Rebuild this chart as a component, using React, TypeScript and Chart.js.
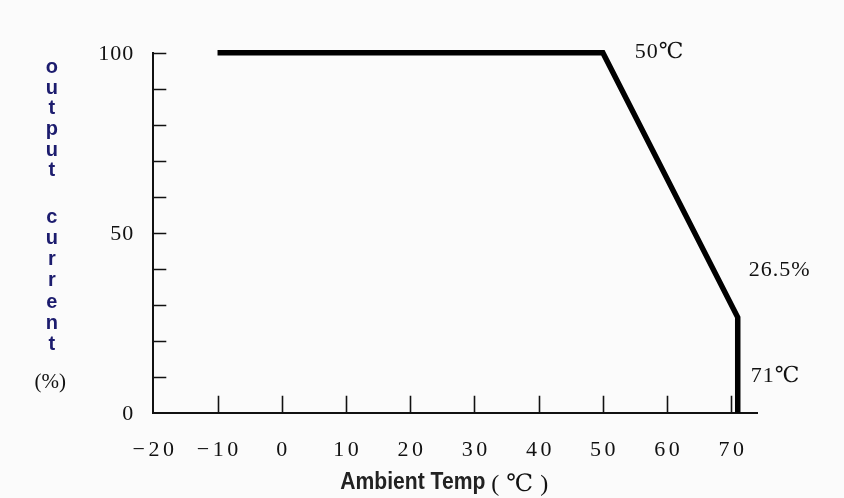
import React, { useEffect, useRef } from 'react';
import { Chart, registerables } from 'chart.js';

Chart.register(...registerables);

// ---------------- data ----------------
const TEMPERATURES = [-10, 50, 71, 71];
const OUTPUT_CURRENT = [100, 100, 26.5, 0];
const X_TICK_VALUES = [-20, -10, 0, 10, 20, 30, 40, 50, 60, 70];
const Y_TICK_VALUES = [0, 10, 20, 30, 40, 50, 60, 70, 80, 90, 100];
const Y_LABELLED_VALUES = [0, 50, 100];
const X_MIN = -20;
const X_MAX = 74;
const Y_MIN = 0;
const Y_MAX = 100;
const ANNOTATION_TEXTS = ['50℃', '26.5%', '71℃'];
const ANNOTATION_AT_X = [50, 71, 71];
const ANNOTATION_AT_Y = [100, 26.5, 0];
const Y_TITLE_WORDS = ['output', 'current'];
const Y_TITLE_UNIT = '(%)';
const X_TITLE = 'Ambient Temp';
const X_TITLE_UNIT = '(℃)';

// ---------------- styles ----------------
const SERIF = "'Liberation Serif', 'DejaVu Serif', serif";
const SANS = "'Liberation Sans', Arial, sans-serif";
const INK = '#111111';
const NAVY = '#1c1c6e';
const ANNOTATION_OFFSETS = [
  { dx: 32, dy: 0 },
  { dx: 11, dy: -47 },
  { dx: 13, dy: -36 },
];

function drawSpaced(
  ctx: CanvasRenderingContext2D,
  text: string,
  x: number,
  y: number,
  spacing: number,
  align: 'left' | 'center' | 'right'
) {
  const chars = Array.from(text);
  const widths = chars.map((c) => ctx.measureText(c).width);
  const total = widths.reduce((a, b) => a + b, 0) + spacing * (chars.length - 1);
  let cur = align === 'center' ? x - total / 2 : align === 'right' ? x - total : x;
  ctx.textAlign = 'left';
  chars.forEach((c, i) => {
    ctx.fillText(c, cur, y);
    cur += widths[i] + spacing;
  });
}

function formatTick(v: number) {
  return v < 0 ? '\u2212' + Math.abs(v) : String(v);
}

const decorPlugin = {
  id: 'deratingDecor',
  beforeDatasetsDraw(chart: any) {
    const { ctx, chartArea: ca, scales } = chart;
    const x = scales.x;
    const y = scales.y;
    ctx.save();
    ctx.strokeStyle = INK;
    ctx.lineWidth = 1.6;
    ctx.beginPath();
    for (const v of Y_TICK_VALUES) {
      if (v === Y_MIN) continue;
      const py = Math.round(y.getPixelForValue(v)) + 0.5;
      ctx.moveTo(ca.left, py);
      ctx.lineTo(ca.left + 13, py);
    }
    for (const v of X_TICK_VALUES) {
      if (v === X_MIN) continue;
      const px = Math.round(x.getPixelForValue(v)) + 0.5;
      ctx.moveTo(px, ca.bottom);
      ctx.lineTo(px, ca.bottom - 17);
    }
    ctx.stroke();
    ctx.restore();
  },
  afterDraw(chart: any) {
    const { ctx, chartArea: ca, scales } = chart;
    const x = scales.x;
    const y = scales.y;
    ctx.save();
    ctx.textBaseline = 'middle';

    // x tick labels
    ctx.fillStyle = INK;
    ctx.font = `22px ${SERIF}`;
    for (const v of X_TICK_VALUES) {
      drawSpaced(ctx, formatTick(v), x.getPixelForValue(v), ca.bottom + 38, 3.5, 'center');
    }
    // y tick labels
    for (const v of Y_LABELLED_VALUES) {
      drawSpaced(ctx, formatTick(v), ca.left - 20, y.getPixelForValue(v) + 1.5, 1, 'right');
    }

    // annotations
    ANNOTATION_TEXTS.forEach((t, i) => {
      const px = x.getPixelForValue(ANNOTATION_AT_X[i]) + ANNOTATION_OFFSETS[i].dx;
      const py = y.getPixelForValue(ANNOTATION_AT_Y[i]) + ANNOTATION_OFFSETS[i].dy;
      drawSpaced(ctx, t, px, py, 1, 'left');
    });

    // y title: stacked letters
    const cx = ca.left - 101.5;
    ctx.fillStyle = NAVY;
    ctx.font = `bold 20px ${SANS}`;
    const starts = [ca.top + 15, ca.top + 164.5];
    const steps = [20.6, 21.2];
    Y_TITLE_WORDS.forEach((w, wi) => {
      Array.from(w).forEach((c, ci) => {
        ctx.textAlign = 'center';
        ctx.fillText(c, cx, starts[wi] + ci * steps[wi]);
      });
    });
    ctx.fillStyle = INK;
    ctx.font = `21px ${SERIF}`;
    drawSpaced(ctx, Y_TITLE_UNIT, cx - 1.5, ca.top + 329.5, 0, 'center');

    // x title
    ctx.fillStyle = '#222222';
    ctx.font = `bold 23px ${SANS}`;
    const titleLeft = ca.left + 187;
    const titleY = ca.bottom + 70;
    const w = ctx.measureText(X_TITLE).width;
    ctx.save();
    ctx.translate(titleLeft, titleY);
    ctx.scale(145 / w, 1);
    ctx.textAlign = 'left';
    ctx.fillText(X_TITLE, 0, 0);
    ctx.restore();
    ctx.fillStyle = INK;
    ctx.font = `24px ${SERIF}`;
    drawSpaced(ctx, X_TITLE_UNIT, titleLeft + 151, titleY + 2, 7, 'left');

    ctx.restore();
  },
};

export default function App() {
  const canvasRef = useRef<HTMLCanvasElement | null>(null);

  useEffect(() => {
    const canvas = canvasRef.current;
    if (!canvas) return;
    const chart = new Chart(canvas, {
      type: 'line',
      data: {
        datasets: [
          {
            data: TEMPERATURES.map((t, i) => ({ x: t, y: OUTPUT_CURRENT[i] })),
            borderColor: '#000000',
            borderWidth: 5.5,
            pointRadius: 0,
            tension: 0,
            fill: false,
            borderJoinStyle: 'miter',
            borderCapStyle: 'butt',
            clip: false,
          } as any,
        ],
      },
      options: {
        animation: false,
        responsive: true,
        maintainAspectRatio: false,
        events: [],
        layout: { padding: { top: 52.7, right: 87, bottom: 0, left: 0 } },
        plugins: {
          legend: { display: false },
          tooltip: { enabled: false },
          title: { display: false },
        },
        scales: {
          x: {
            type: 'linear',
            min: X_MIN,
            max: X_MAX,
            grid: { display: false, drawTicks: false },
            border: { display: true, color: INK, width: 2 },
            ticks: { display: false },
            afterBuildTicks: (s: any) => {
              s.ticks = X_TICK_VALUES.map((v) => ({ value: v }));
            },
            afterFit: (s: any) => {
              s.height = 85.3;
            },
          },
          y: {
            type: 'linear',
            min: Y_MIN,
            max: Y_MAX,
            grid: { display: false, drawTicks: false },
            border: { display: true, color: INK, width: 2 },
            ticks: { display: false },
            afterBuildTicks: (s: any) => {
              s.ticks = Y_TICK_VALUES.map((v) => ({ value: v }));
            },
            afterFit: (s: any) => {
              s.width = 153.3;
            },
          },
        },
      } as any,
      plugins: [decorPlugin],
    });
    return () => chart.destroy();
  }, []);

  return (
    <div
      style={{
        position: 'absolute',
        left: 0,
        top: 0,
        width: 844,
        height: 498,
        background: '#fbfbfb',
      }}
    >
      <canvas ref={canvasRef} />
    </div>
  );
}
